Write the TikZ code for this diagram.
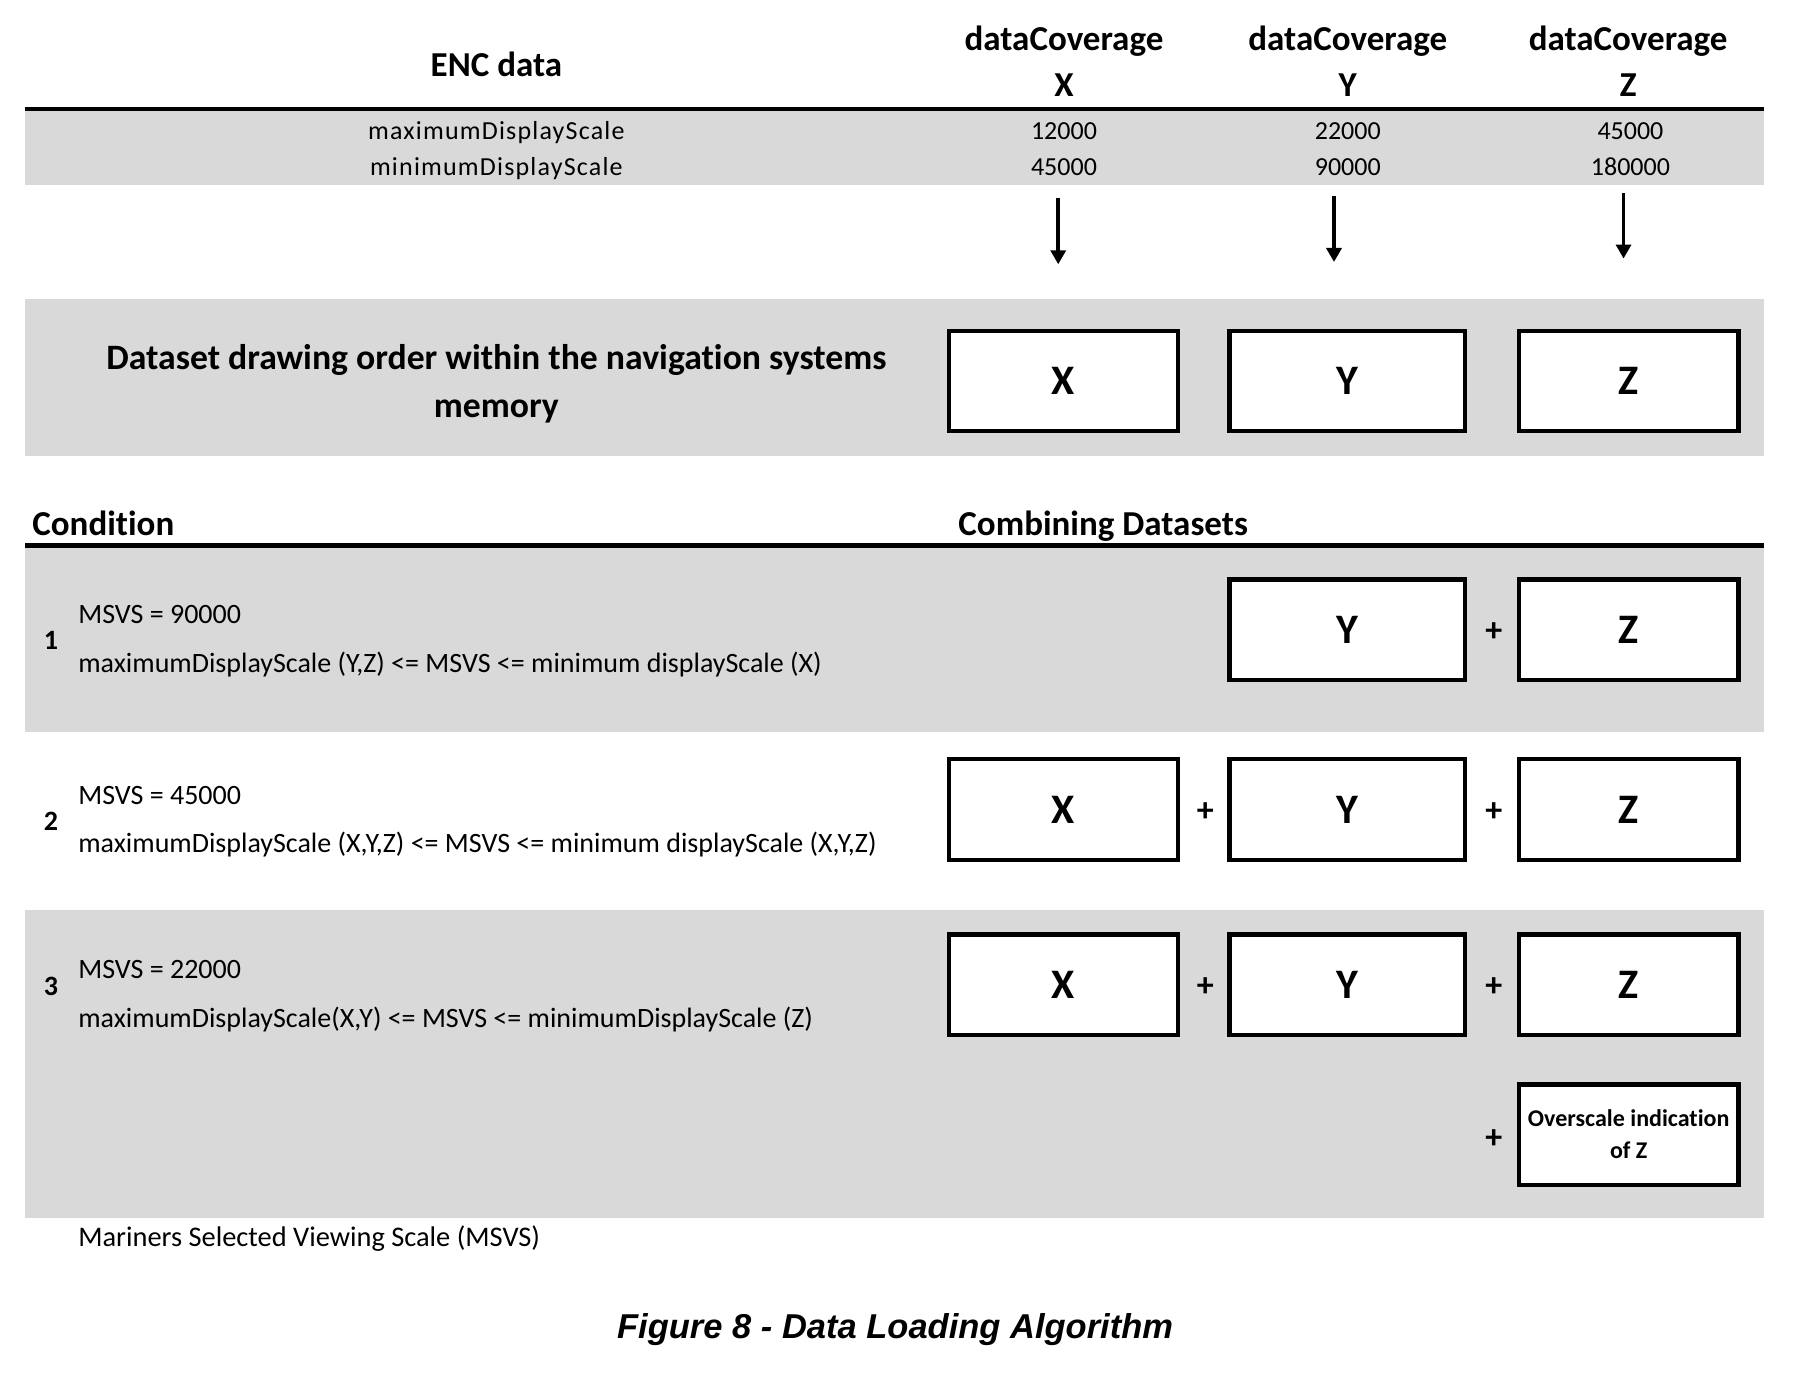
\documentclass[tikz,border=0pt]{standalone}
\usepackage{fontspec}
\setmainfont{Carlito}[Ligatures={NoCommon}]
\newfontfamily\capfont{Liberation Sans}
\usetikzlibrary{arrows.meta}
\definecolor{bandgray}{HTML}{D9D9D9}
\tikzset{
 bandfill/.style={fill=bandgray, draw=none},
 rulel/.style={line width=4.6pt},
 hdr/.style={font=\fontsize{35}{42}\selectfont\bfseries, inner sep=0, anchor=base},
 tab/.style={font=\fontsize{26}{31}\selectfont, inner sep=0, anchor=base},
 tabl/.style={font=\fontsize{26}{31}\selectfont\addfontfeature{LetterSpace=4.6}, inner sep=0, anchor=base},
 cond/.style={font=\fontsize{28}{34}\selectfont, inner sep=0, anchor=base west},
 rownum/.style={font=\fontsize{28}{34}\selectfont\bfseries, inner sep=0, anchor=base west},
 dbox/.style={draw, line width=4.2pt, fill=white, inner sep=0, align=center,
   font=\fontsize{42}{50}\selectfont\bfseries, minimum height=100.5pt},
 bx/.style={dbox, minimum width=228.7pt},
 by/.style={dbox, minimum width=235.5pt},
 bz/.style={dbox, minimum width=219.5pt},
 plussign/.style={font=\fontsize{34}{40}\selectfont\bfseries, inner sep=0},
 arr/.style={line width=3.5pt, -{Triangle[length=14pt,width=15pt]}},
}
\begin{document}
\begin{tikzpicture}[x=1.149pt, y=-1.149pt]
\useasboundingbox (0,0) rectangle (1567.45,1194.1);
% bands
\fill[bandfill] (22,97) rectangle (1535,161);
\fill[bandfill] (22,260) rectangle (1535,397);
\fill[bandfill] (22,477) rectangle (1535,637);
\fill[bandfill] (22,792) rectangle (1535,1060);
% rules
\draw[rulel] (22,95) -- (1535,95);
\draw[rulel] (22,475) -- (1535,475);
% header
\node[hdr] (enc) at (432,67) {ENC data};
\node[hdr] (dcx) at (926,44) {dataCoverage};
\node[hdr] (dcy) at (1173,44) {dataCoverage};
\node[hdr] (dcz) at (1417,44) {dataCoverage};
\node[hdr] (hx) at (926,84) {X};
\node[hdr] (hy) at (1173,84) {Y};
\node[hdr] (hz) at (1417,84) {Z};
% table
\node[tabl] (maxl) at (432,121) {maximumDisplayScale};
\node[tabl] (minl) at (432,153) {minimumDisplayScale};
\node[tab] (maxx) at (926,121) {12000};
\node[tab] (maxy) at (1173,121) {22000};
\node[tab] (maxz) at (1419,121) {45000};
\node[tab] (minx) at (926,153) {45000};
\node[tab] (miny) at (1173,153) {90000};
\node[tab] (minz) at (1419,153) {180000};
% arrows
\coordinate (ax1) at (921,172); \coordinate (ax2) at (921,230);
\coordinate (ay1) at (1161,171); \coordinate (ay2) at (1161,228);
\coordinate (az1) at (1413,168); \coordinate (az2) at (1413,225);
\draw[arr] (ax1) -- (ax2);
\draw[arr] (ay1) -- (ay2);
\draw[arr] (az1) -- (az2);
% drawing order
\node[hdr, font=\fontsize{35.7}{48}\selectfont\bfseries] (order) at (432,322)
  {Dataset drawing order within the navigation systems};
\node[hdr, font=\fontsize{35.7}{48}\selectfont\bfseries] (mem) at (432,363) {memory};
\node[bx] (ox) at (925.5,331.5) {X};
\node[by] (oy) at (1172.5,331.5) {Y};
\node[bz] (oz) at (1417.5,331.5) {Z};
% section header
\node[hdr, anchor=base west] (condh) at (28,466) {Condition};
\node[hdr, anchor=base west] (combh) at (834,466) {Combining Datasets};
% row 1
\node[rownum] (n1) at (38,565) {1};
\node[cond] (m1) at (68,543) {MSVS = 90000};
\node[cond] (c1) at (68,585) {maximumDisplayScale (Y,Z) <= MSVS <= minimum displayScale (X)};
\node[by] (r1y) at (1172.5,548) {Y};
\node[plussign] (p1a) at (1300,550) {+};
\node[bz] (r1z) at (1417.5,548) {Z};
% row 2
\node[rownum] (n2) at (38,723) {2};
\node[cond] (m2) at (68,700) {MSVS = 45000};
\node[cond] (c2) at (68,742) {maximumDisplayScale (X,Y,Z) <= MSVS <= minimum displayScale (X,Y,Z)};
\node[bx] (r2x) at (925.5,704.5) {X};
\node[plussign] (p2a) at (1049,707) {+};
\node[by] (r2y) at (1172.5,704.5) {Y};
\node[plussign] (p2b) at (1300,707) {+};
\node[bz] (r2z) at (1417.5,704.5) {Z};
% row 3
\node[rownum] (n3) at (38,866) {3};
\node[cond] (m3) at (68,852) {MSVS = 22000};
\node[cond] (c3) at (68,894) {maximumDisplayScale(X,Y) <= MSVS <= minimumDisplayScale (Z)};
\node[bx] (r3x) at (925.5,857) {X};
\node[plussign] (p3a) at (1049,859) {+};
\node[by] (r3y) at (1172.5,857) {Y};
\node[plussign] (p3b) at (1300,859) {+};
\node[bz] (r3z) at (1417.5,857) {Z};
\node[plussign] (p3c) at (1300,991) {+};
\node[bz, font=\fontsize{24}{32}\selectfont\bfseries] (r3o) at (1417.5,987.5) {Overscale indication\\of Z};
% footnote
\node[cond, font=\fontsize{28.4}{34}\selectfont] (foot) at (68,1085) {Mariners Selected Viewing Scale (MSVS)};
% caption
\node[inner sep=0, anchor=base, font=\capfont\fontsize{34.5}{40}\selectfont\bfseries\itshape] (cap) at (779,1165)
  {Figure 8 - Data Loading Algorithm};
\end{tikzpicture}
\end{document}
